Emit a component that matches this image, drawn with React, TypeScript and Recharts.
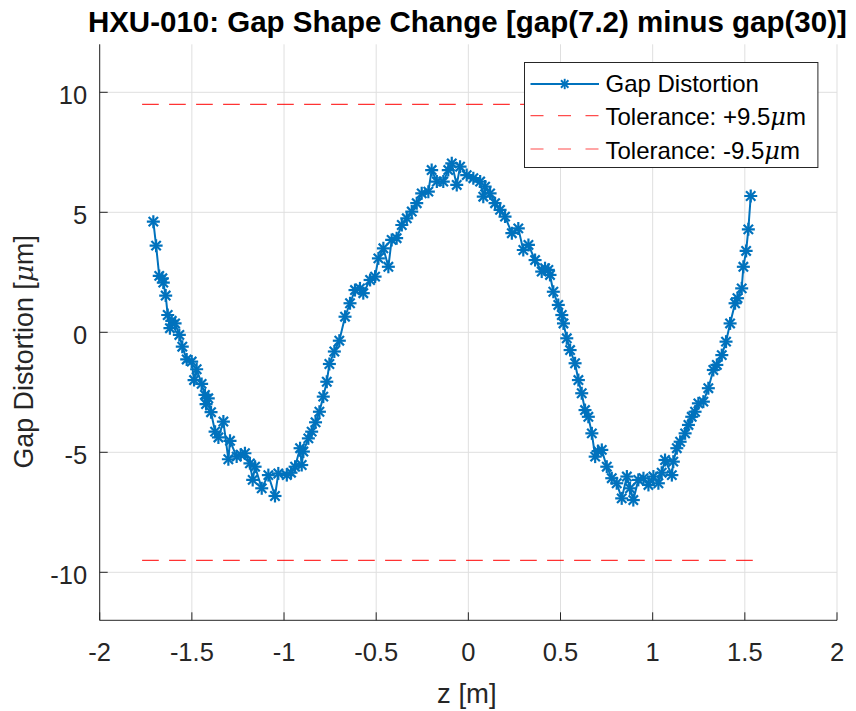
import React from 'react';
import { ComposedChart, Line, XAxis, YAxis, CartesianGrid, Legend, Label } from 'recharts';

// ---- data ----
const zValues = [
  -1.709, -1.694, -1.677, -1.660, -1.655, -1.642, -1.631, -1.619, -1.609, -1.591,
  -1.568, -1.552, -1.528, -1.501, -1.488, -1.474, -1.447, -1.429, -1.423, -1.411,
  -1.396, -1.374, -1.356, -1.329, -1.302, -1.293, -1.257, -1.235, -1.212, -1.185,
  -1.170, -1.157, -1.121, -1.085, -1.049, -1.031, -0.985, -0.962, -0.940, -0.913,
  -0.904, -0.895, -0.868, -0.850, -0.829, -0.808, -0.787, -0.768, -0.754, -0.727,
  -0.700, -0.669, -0.642, -0.615, -0.588, -0.570, -0.533, -0.506, -0.488, -0.461,
  -0.434, -0.416, -0.389, -0.361, -0.334, -0.307, -0.280, -0.253, -0.217, -0.199,
  -0.171, -0.136, -0.109, -0.090, -0.063, -0.045, -0.009, 0.027, 0.064, 0.081,
  0.091, 0.118, 0.145, 0.172, 0.199, 0.236, 0.271, 0.298, 0.326, 0.362,
  0.398, 0.416, 0.434, 0.443, 0.461, 0.488, 0.507, 0.516, 0.534, 0.552,
  0.579, 0.597, 0.615, 0.633, 0.651, 0.670, 0.688, 0.704, 0.724, 0.751,
  0.778, 0.805, 0.832, 0.860, 0.877, 0.895, 0.922, 0.950, 0.977, 1.004,
  1.031, 1.049, 1.067, 1.104, 1.112, 1.131, 1.149, 1.176, 1.194, 1.212,
  1.230, 1.248, 1.275, 1.302, 1.329, 1.348, 1.375, 1.398, 1.420, 1.447,
  1.460, 1.483, 1.492, 1.507, 1.519, 1.532,
];
const gapValues = [
  4.61, 3.61, 2.35, 2.25, 2.07, 1.53, 0.72, 0.17, 0.48, 0.37,
  -0.11, -0.60, -1.13, -1.22, -1.99, -1.54, -2.15, -2.61, -2.99, -2.75,
  -3.33, -4.14, -4.38, -3.72, -5.29, -4.52, -5.18, -5.10, -5.04, -5.46,
  -6.15, -5.60, -6.50, -5.95, -6.82, -5.88, -5.95, -5.85, -5.60, -4.83,
  -5.53, -4.97, -4.42, -4.14, -3.75, -3.31, -2.68, -2.06, -1.32, -0.80,
  -0.35, 0.65, 1.21, 1.76, 1.83, 1.63, 2.18, 2.32, 3.08, 3.50,
  2.73, 3.85, 3.92, 4.47, 4.75, 5.03, 5.38, 5.79, 5.86, 6.76,
  6.28, 6.28, 6.76, 7.04, 6.14, 6.90, 6.55, 6.42, 6.28, 5.65,
  6.07, 5.79, 5.38, 5.10, 4.82, 4.13, 4.33, 3.43, 3.64, 3.01,
  2.53, 2.67, 2.60, 2.39, 1.69, 1.14, 0.72, 0.37, -0.25, -0.74,
  -1.29, -1.99, -2.54, -3.24, -3.52, -4.21, -5.18, -4.95, -4.90, -5.60,
  -6.08, -6.29, -6.92, -6.01, -6.50, -6.99, -6.15, -6.08, -6.36, -6.01,
  -6.29, -5.85, -5.32, -5.95, -5.39, -4.83, -4.56, -4.21, -3.86, -3.52,
  -3.31, -2.96, -2.89, -2.33, -1.57, -1.36, -0.95, -0.39, 0.37, 1.21,
  1.42, 1.83, 2.73, 3.39, 4.29, 5.68,
];
const tolZ = [-1.77, 1.57];
const tolUpperValues = [9.5, 9.5];
const tolLowerValues = [-9.5, -9.5];
const xTicks = [-2, -1.5, -1, -0.5, 0, 0.5, 1, 1.5, 2];
const yTicks = [-10, -5, 0, 5, 10];
const legendLabels = ['Gap Distortion', 'Tolerance: +9.5', 'Tolerance: -9.5'];
const titleText = 'HXU-010: Gap Shape Change [gap(7.2) minus gap(30)]';

const gapData = zValues.map((z, i) => ({ z, y: gapValues[i] }));
const upperData = tolZ.map((z, i) => ({ z, y: tolUpperValues[i] }));
const lowerData = tolZ.map((z, i) => ({ z, y: tolLowerValues[i] }));

const FONT = '"Liberation Sans", Arial, Helvetica, sans-serif';
const MU_FONT = '"DejaVu Serif", "Liberation Serif", serif';
const AX = '#262626';
const BLUE = '#0072BD';
const RED = '#FF0000';
const TICK = 8;

const Star = ({ cx, cy, r = 6.5, w = 2.2 }: { cx: number; cy: number; r?: number; w?: number }) => {
  const d = r * 0.72;
  return (
    <g stroke={BLUE} strokeWidth={w} strokeLinecap="butt">
      <line x1={cx - r} y1={cy} x2={cx + r} y2={cy} />
      <line x1={cx} y1={cy - r} x2={cx} y2={cy + r} />
      <line x1={cx - d} y1={cy - d} x2={cx + d} y2={cy + d} />
      <line x1={cx - d} y1={cy + d} x2={cx + d} y2={cy - d} />
    </g>
  );
};

const renderStar = (props: any) => {
  const { cx, cy, index } = props;
  if (cx == null || cy == null) return <g key={`s-${index}`} />;
  return <Star key={`s-${index}`} cx={cx} cy={cy} />;
};

const BottomTick = (props: any) => {
  const { x, y, payload } = props;
  return (
    <g>
      <line x1={x} x2={x} y1={y} y2={y - TICK} stroke={AX} strokeWidth={1} />
      <text x={x} y={y + 40.7} textAnchor="middle" fontSize={25.5} fill={AX} fontFamily={FONT}>
        {String(payload.value)}
      </text>
    </g>
  );
};
const TopTick = (props: any) => {
  const { x, y } = props;
  return <line x1={x} x2={x} y1={y} y2={y + TICK} stroke={AX} strokeWidth={1} />;
};
const LeftTick = (props: any) => {
  const { x, y, payload } = props;
  return (
    <g>
      <line x1={x} x2={x + TICK} y1={y} y2={y} stroke={AX} strokeWidth={1} />
      <text x={x - 12.5} y={y + 11.7} textAnchor="end" fontSize={25.5} fill={AX} fontFamily={FONT}>
        {String(payload.value)}
      </text>
    </g>
  );
};
const RightTick = (props: any) => {
  const { x, y } = props;
  return <line x1={x} x2={x - TICK} y1={y} y2={y} stroke={AX} strokeWidth={1} />;
};

const XLabel = (props: any) => {
  const vb = props.viewBox || {};
  return (
    <g>
      <text x={vb.x + vb.width / 2 - 1.5} y={vb.y + 82.5} textAnchor="middle" fontSize={27.5} fill={AX} fontFamily={FONT}>
        z [m]
      </text>
      <text
        x={vb.x + vb.width / 2 - 1}
        y={32.3}
        textAnchor="middle"
        fontSize={29.5}
        fontWeight="bold"
        fill="#000"
        fontFamily={FONT}
      >
        {titleText}
      </text>
    </g>
  );
};
const YLabel = (props: any) => {
  const vb = props.viewBox || {};
  const cx = 33;
  const cy = vb.y + vb.height / 2 + 19.5;
  return (
    <text
      x={cx}
      y={cy}
      transform={`rotate(-90, ${cx}, ${cy})`}
      textAnchor="middle"
      fontSize={26.8}
      fill={AX}
      fontFamily={FONT}
    >
      Gap Distortion [<tspan fontStyle="italic" fontFamily={MU_FONT}>μ</tspan>m]
    </text>
  );
};

const LegendBox = () => {
  const W = 294.4;
  const H = 106;
  const rows = [
    { lineY: 22, textY: 30, kind: 'gap' },
    { lineY: 53.7, textY: 63.4, kind: 'tol' },
    { lineY: 87, textY: 96.7, kind: 'tol' },
  ];
  return (
    <svg width={W} height={H} style={{ display: 'block' }}>
      <rect x={0.5} y={0.5} width={W - 1} height={H - 1} fill="#fff" stroke={AX} strokeWidth={1} />
      {rows.map((r, i) => (
        <g key={i}>
          {r.kind === 'gap' ? (
            <g>
              <line x1={6.5} x2={75} y1={r.lineY} y2={r.lineY} stroke={BLUE} strokeWidth={2} />
              <Star cx={40.7} cy={r.lineY} r={5.2} w={1.9} />
            </g>
          ) : (
            <line x1={6.5} x2={75} y1={r.lineY} y2={r.lineY} stroke="#ff4d4d" strokeWidth={1.2} strokeDasharray="13 14.5" />
          )}
          <text x={81.5} y={r.textY} fontSize={24} fill="#000" fontFamily={FONT}>
            {legendLabels[i]}
            {r.kind === 'tol' ? (
              <>
                <tspan fontStyle="italic" fontFamily={MU_FONT}>μ</tspan>m
              </>
            ) : null}
          </text>
        </g>
      ))}
    </svg>
  );
};

export default function App() {
  return (
    <div style={{ position: 'absolute', left: 0, top: 0, width: 856, height: 711, background: '#fff' }}>
      <ComposedChart
        width={856}
        height={711}
        margin={{ top: 44.3, right: 19, bottom: 0, left: 0 }}
        style={{ background: '#fff' }}
      >
        <CartesianGrid xAxisId="b" yAxisId="l" stroke="#dfdfdf" strokeWidth={1} verticalValues={xTicks} horizontalValues={yTicks} />
        <XAxis
          xAxisId="b"
          dataKey="z"
          type="number"
          domain={[-2, 2]}
          ticks={xTicks}
          allowDataOverflow
          orientation="bottom"
          height={90.7}
          tickSize={0}
          tickMargin={0}
          tick={BottomTick}
          axisLine={{ stroke: AX, strokeWidth: 1 }}
          tickLine={false}
          interval={0}
        >
          <Label content={XLabel} />
        </XAxis>
        <XAxis
          xAxisId="t"
          dataKey="z"
          type="number"
          domain={[-2, 2]}
          ticks={xTicks}
          allowDataOverflow
          orientation="top"
          height={0}
          tickSize={0}
          tickMargin={0}
          tick={TopTick}
          axisLine={{ stroke: AX, strokeWidth: 1 }}
          tickLine={false}
          interval={0}
        />
        <YAxis
          yAxisId="l"
          type="number"
          domain={[-12, 12]}
          ticks={yTicks}
          allowDataOverflow
          orientation="left"
          width={99.7}
          tickSize={0}
          tickMargin={0}
          tick={LeftTick}
          axisLine={{ stroke: AX, strokeWidth: 1 }}
          tickLine={false}
          interval={0}
        >
          <Label content={YLabel} />
        </YAxis>
        <YAxis
          yAxisId="r"
          type="number"
          domain={[-12, 12]}
          ticks={yTicks}
          allowDataOverflow
          orientation="right"
          width={0}
          tickSize={0}
          tickMargin={0}
          tick={RightTick}
          axisLine={{ stroke: AX, strokeWidth: 1 }}
          tickLine={false}
          interval={0}
        />
        {/* invisible series binding the box axes (top / right) */}
        <Line
          xAxisId="t"
          yAxisId="r"
          data={upperData}
          dataKey="y"
          type="linear"
          stroke="none"
          strokeWidth={0}
          dot={false}
          activeDot={false}
          isAnimationActive={false}
          legendType="none"
        />
        <Line
          xAxisId="b"
          yAxisId="l"
          data={upperData}
          dataKey="y"
          type="linear"
          stroke={RED}
          strokeWidth={1}
          strokeDasharray="16.7 10.3"
          dot={false}
          activeDot={false}
          isAnimationActive={false}
          legendType="none"
        />
        <Line
          xAxisId="b"
          yAxisId="l"
          data={lowerData}
          dataKey="y"
          type="linear"
          stroke={RED}
          strokeWidth={1}
          strokeDasharray="16.7 10.3"
          dot={false}
          activeDot={false}
          isAnimationActive={false}
          legendType="none"
        />
        <Line
          xAxisId="b"
          yAxisId="l"
          data={gapData}
          dataKey="y"
          type="linear"
          stroke={BLUE}
          strokeWidth={2}
          dot={renderStar}
          activeDot={false}
          isAnimationActive={false}
          legendType="none"
        />
        <Legend
          layout="vertical"
          align="center"
          verticalAlign="middle"
          content={LegendBox}
          wrapperStyle={{ position: 'absolute', left: 524.3, top: 62.3, width: 294.4, height: 106, margin: 0, padding: 0 }}
        />
      </ComposedChart>
    </div>
  );
}
